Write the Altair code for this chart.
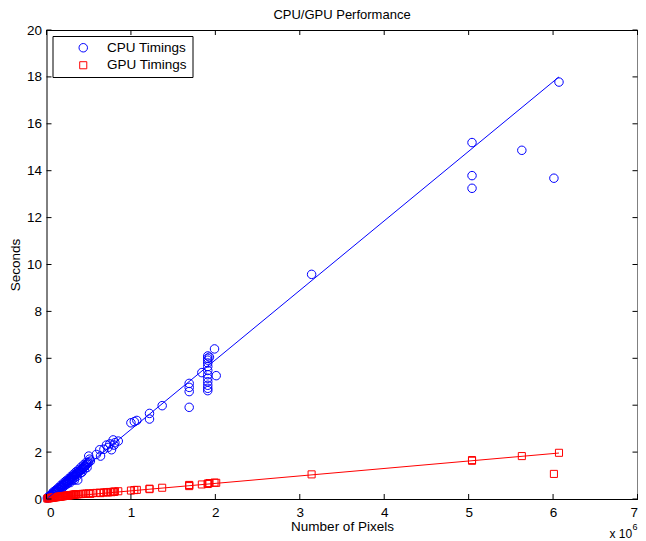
import altair as alt
import pandas as pd

# ---------------- data (x in units of 10^6 pixels, y in seconds) ----------------
cpu_x = [0.01, 0.02, 0.03, 0.03, 0.04, 0.05, 0.05, 0.06, 0.07, 0.07, 0.08, 0.09, 0.10, 0.10,
         0.11, 0.12, 0.12, 0.13, 0.14, 0.15, 0.15, 0.16, 0.17, 0.18, 0.18, 0.19, 0.20, 0.21,
         0.21, 0.22, 0.23, 0.24, 0.24, 0.25, 0.26, 0.27, 0.27, 0.28, 0.29, 0.30, 0.30, 0.31,
         0.32, 0.33, 0.33, 0.34, 0.35, 0.36, 0.37, 0.37, 0.38, 0.39, 0.40, 0.40, 0.41, 0.42,
         0.43, 0.44, 0.45, 0.45, 0.46, 0.47, 0.48, 0.49, 0.50, 0.50, 0.52, 0.59, 0.63, 0.64,
         0.68, 0.71, 0.73, 0.75, 0.77, 0.79, 0.80, 0.81, 0.85, 1.00, 1.04, 1.07, 1.22, 1.22,
         1.37, 1.69, 1.69, 1.69, 1.69, 1.84, 1.91, 1.91, 1.91, 1.91, 1.91, 1.91, 1.91, 1.91,
         1.91, 1.91, 1.91, 1.91, 1.93, 1.99, 2.01, 3.14, 5.04, 5.04, 5.04, 5.63, 6.01, 6.07,
         0.08, 0.11, 0.14, 0.17, 0.20, 0.23, 0.26, 0.29, 0.32, 0.35, 0.38, 0.41, 0.44, 0.47,
         0.13, 0.19, 0.25, 0.31, 0.36, 0.42, 0.48, 0.28, 0.33, 0.51]
cpu_y = [0.04, 0.06, 0.08, 0.12, 0.10, 0.16, 0.12, 0.18, 0.20, 0.24, 0.22, 0.28, 0.30, 0.26,
         0.34, 0.36, 0.30, 0.40, 0.42, 0.44, 0.40, 0.48, 0.52, 0.53, 0.46, 0.58, 0.60, 0.63,
         0.55, 0.66, 0.70, 0.72, 0.64, 0.76, 0.78, 0.82, 0.74, 0.86, 0.88, 0.92, 0.84, 0.95,
         0.98, 1.00, 0.90, 1.04, 1.06, 1.10, 0.81, 1.12, 1.16, 1.18, 1.22, 1.10, 1.25, 1.28,
         1.32, 1.36, 1.38, 1.28, 1.42, 1.46, 1.50, 1.55, 1.58, 1.83, 1.62, 1.90, 2.10, 1.83,
         2.12, 2.30, 2.20, 2.35, 2.10, 2.52, 2.30, 2.40, 2.47, 3.25, 3.30, 3.35, 3.65, 3.41,
         3.98, 4.93, 4.76, 4.58, 3.91, 5.39, 6.10, 6.00, 5.92, 5.80, 5.65, 5.48, 5.30, 5.15,
         5.00, 4.85, 4.72, 4.62, 6.05, 6.40, 5.26, 9.58, 15.20, 13.79, 13.25, 14.87, 13.68, 17.78,
         0.30, 0.38, 0.48, 0.58, 0.68, 0.77, 0.86, 0.96, 1.06, 1.16, 1.25, 1.36, 1.46, 1.56,
         0.32, 0.50, 0.66, 0.82, 0.98, 1.14, 1.34, 0.70, 0.80, 1.70]

gpu_x = [0.01, 0.02, 0.03, 0.04, 0.05, 0.06, 0.07, 0.08, 0.09, 0.10, 0.11, 0.12, 0.13, 0.14,
         0.15, 0.16, 0.17, 0.18, 0.19, 0.20, 0.21, 0.22, 0.23, 0.24, 0.25, 0.26, 0.27, 0.28,
         0.29, 0.30, 0.31, 0.32, 0.33, 0.34, 0.35, 0.37, 0.39, 0.41, 0.43, 0.45, 0.47, 0.50,
         0.52, 0.55, 0.59, 0.63, 0.64, 0.68, 0.71, 0.73, 0.75, 0.77, 0.79, 0.80, 0.81, 0.85,
         1.00, 1.04, 1.07, 1.22, 1.22, 1.37, 1.69, 1.69, 1.69, 1.84, 1.91, 1.91, 1.93, 1.99,
         2.01, 3.14, 5.04, 5.04, 5.63, 6.01, 6.07]
gpu_y = [0.02, 0.03, 0.03, 0.04, 0.05, 0.05, 0.06, 0.06, 0.07, 0.07, 0.08, 0.08, 0.09, 0.09,
         0.10, 0.10, 0.11, 0.11, 0.12, 0.12, 0.13, 0.13, 0.14, 0.14, 0.15, 0.15, 0.16, 0.16,
         0.17, 0.17, 0.18, 0.18, 0.19, 0.19, 0.20, 0.20, 0.21, 0.21, 0.22, 0.22, 0.23, 0.24,
         0.22, 0.25, 0.26, 0.27, 0.25, 0.28, 0.29, 0.28, 0.30, 0.29, 0.31, 0.30, 0.32, 0.33,
         0.36, 0.38, 0.39, 0.44, 0.42, 0.48, 0.58, 0.55, 0.60, 0.62, 0.64, 0.66, 0.68, 0.70,
         0.69, 1.05, 1.66, 1.63, 1.83, 1.07, 1.97]

fit_x = [0.0, 6.07]
cpu_fit = [0.0, 18.0]
gpu_fit = [0.03, 1.96]

series_names = ["CPU Timings", "GPU Timings"]
series_colors = ["#0000ff", "#ff0000"]
series_shapes = ["circle", "square"]

x_ticks = [0, 1, 2, 3, 4, 5, 6, 7]
y_ticks = [0, 2, 4, 6, 8, 10, 12, 14, 16, 18, 20]

title_text = "CPU/GPU Performance"
exp_text = "x 10"
exp_power = "6"

# ---------------- layout ----------------
W, H = 591, 469
FONT = "Liberation Sans"
FS = 13.5
TICK = 5

pts = pd.DataFrame({
    "x": cpu_x + gpu_x,
    "y": cpu_y + gpu_y,
    "series": [series_names[0]] * len(cpu_x) + [series_names[1]] * len(gpu_x),
})
cpu_line_df = pd.DataFrame({"x": fit_x, "y": cpu_fit})
gpu_line_df = pd.DataFrame({"x": fit_x, "y": gpu_fit})
xt_df = pd.DataFrame({"x": x_ticks})
yt_df = pd.DataFrame({"y": y_ticks})

xs = alt.Scale(domain=[0, 7], nice=False, zero=False)
ys = alt.Scale(domain=[0, 20], nice=False, zero=False)

x_axis = alt.Axis(title="Number of Pixels", values=x_ticks, format="d",
                  labelPadding=6, titlePadding=1)
y_axis = alt.Axis(title="Seconds", values=y_ticks, format="d",
                  labelPadding=5, titlePadding=4)

X = alt.X("x:Q", scale=xs, axis=x_axis, title="Number of Pixels")
Y = alt.Y("y:Q", scale=ys, axis=y_axis, title="Seconds")

legend = alt.Legend(
    title=None, orient="top-left", offset=6,
    strokeColor="black", fillColor="white", padding=5,
    labelFont=FONT, labelFontSize=FS, labelColor="black",
    symbolSize=64, symbolStrokeWidth=1, symbolOffset=19, labelOffset=17,
    rowPadding=2.5,
)

points = alt.Chart(pts).mark_point(filled=False, strokeWidth=1, opacity=1).encode(
    x=X, y=Y,
    color=alt.Color("series:N", scale=alt.Scale(domain=series_names, range=series_colors), legend=legend),
    shape=alt.Shape("series:N", scale=alt.Scale(domain=series_names, range=series_shapes), legend=legend),
    size=alt.Size("series:N", scale=alt.Scale(domain=series_names, range=[72, 50]), legend=None),
)

cpu_line = alt.Chart(cpu_line_df).mark_line(color="#0000ff", strokeWidth=1).encode(x=X, y=Y)
gpu_line = alt.Chart(gpu_line_df).mark_line(color="#ff0000", strokeWidth=1).encode(x=X, y=Y)

# inward ticks on all four sides (MATLAB box style)
xt_bottom = alt.Chart(xt_df).mark_rule(color="black", strokeWidth=1).encode(
    x=X, y=alt.value(H), y2=alt.value(H - TICK))
xt_top = alt.Chart(xt_df).mark_rule(color="black", strokeWidth=1).encode(
    x=X, y=alt.value(0), y2=alt.value(TICK))
yt_left = alt.Chart(yt_df).mark_rule(color="black", strokeWidth=1).encode(
    y=Y, x=alt.value(0), x2=alt.value(TICK))
yt_right = alt.Chart(yt_df).mark_rule(color="black", strokeWidth=1).encode(
    y=Y, x=alt.value(W), x2=alt.value(W - TICK))

# title
title = alt.Chart(pd.DataFrame({"t": [title_text]})).mark_text(
    font=FONT, fontSize=13, align="center", baseline="middle", color="black").encode(
    text="t:N", x=alt.value(W / 2), y=alt.value(-15))

# exponent note "x 10^6"
exp_base = alt.Chart(pd.DataFrame({"t": [exp_text]})).mark_text(
    font=FONT, fontSize=12, align="left", baseline="middle", color="black").encode(
    text="t:N", x=alt.value(563), y=alt.value(H + 35))
exp_sup = alt.Chart(pd.DataFrame({"t": [exp_power]})).mark_text(
    font=FONT, fontSize=9, align="left", baseline="middle", color="black").encode(
    text="t:N", x=alt.value(586), y=alt.value(H + 28))

chart = alt.layer(
    points, cpu_line, gpu_line, xt_bottom, xt_top, yt_left, yt_right,
    title, exp_base, exp_sup
).properties(
    width=W, height=H,
    autosize=alt.AutoSizeParams(type="none"),
    padding={"left": 38.5, "top": 22, "right": 0.5, "bottom": 42},
).configure_view(
    stroke="black", strokeWidth=1
).configure_axis(
    domain=False, ticks=False, grid=False,
    labelFont=FONT, labelFontSize=FS, labelColor="black",
    titleFont=FONT, titleFontSize=FS, titleFontWeight="normal", titleColor="black",
)

chart.save("out.html", embed_options={"renderer": "svg", "actions": False})
